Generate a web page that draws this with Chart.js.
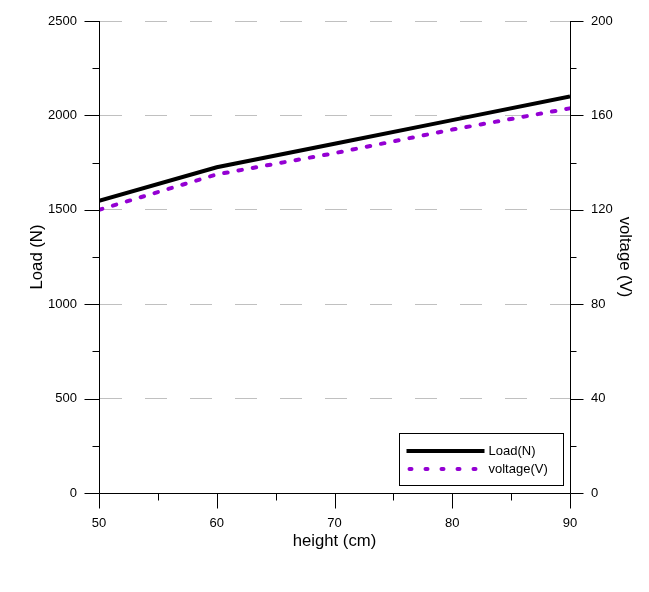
<!DOCTYPE html>
<html><head><meta charset="utf-8">
<script src="https://cdn.jsdelivr.net/npm/chart.js@4/dist/chart.umd.min.js"></script>
<style>html,body{margin:0;padding:0;background:#fff;}#wrap{width:649px;height:592px;position:relative}</style>
</head><body><div id="wrap"><canvas id="c" width="649" height="592"></canvas></div>
<script>
const heights = [50, 60, 70, 80, 90];
const loadN = [1548, 1725, 1850, 1975, 2100];
const voltageV = [120, 135, 144, 154, 163];
const seriesLabels = ['Load(N)', 'voltage(V)'];
const xTitle = 'height (cm)';
const yTitle = 'Load (N)';
const y1Title = 'voltage (V)';

const FONT = "'Liberation Sans', Arial, sans-serif";
const TICK_FONT = {family: FONT, size: 13};
const TITLE_FONT = {family: FONT, size: 16.7};

const axesPlugin = {
  id: 'axes',
  afterDraw(chart) {
    const {ctx, chartArea: a, scales} = chart;
    const {x, y, y1} = scales;
    ctx.save();
    ctx.strokeStyle = '#000';
    ctx.lineWidth = 1;
    const L = Math.round(a.left) + 0.5, R = Math.round(a.right) + 0.5, B = Math.round(a.bottom) + 0.5, T = Math.round(a.top);
    ctx.beginPath();
    ctx.moveTo(L, T); ctx.lineTo(L, B);
    ctx.moveTo(R, T); ctx.lineTo(R, B);
    ctx.moveTo(L, B); ctx.lineTo(R, B);
    for (let v = y.min; v <= y.max + 1e-6; v += 250) {
      const p = Math.round(y.getPixelForValue(v)) + 0.5;
      const major = Math.abs(v % 500) < 1e-6;
      ctx.moveTo(L - (major ? 15 : 7), p); ctx.lineTo(L, p);
    }
    for (let v = y1.min; v <= y1.max + 1e-6; v += 20) {
      const p = Math.round(y1.getPixelForValue(v)) + 0.5;
      const major = Math.abs(v % 40) < 1e-6;
      ctx.moveTo(R, p); ctx.lineTo(R + (major ? 13 : 6), p);
    }
    for (let v = x.min; v <= x.max + 1e-6; v += 5) {
      const p = Math.round(x.getPixelForValue(v)) + 0.5;
      const major = Math.abs(v % 10) < 1e-6;
      ctx.moveTo(p, B); ctx.lineTo(p, B + (major ? 15 : 7));
    }
    ctx.stroke();

    // legend
    const bw = 164, bh = 52;
    const bx = Math.round(a.right) - 7 - bw + 0.5, by = Math.round(a.bottom) - 8 - bh + 0.5;
    ctx.fillStyle = '#fff';
    ctx.fillRect(bx, by, bw, bh);
    ctx.strokeRect(bx, by, bw, bh);
    chart.data.datasets.forEach((ds, i) => {
      const ly = Math.round(by + 17 + i * 18);
      ctx.save();
      ctx.strokeStyle = ds.borderColor;
      ctx.lineWidth = ds.borderWidth;
      ctx.lineCap = ds.borderCapStyle || 'butt';
      ctx.beginPath();
      if (ds.borderDash) {
        ctx.setLineDash([2, 14]);
        ctx.moveTo(bx + 10, ly); ctx.lineTo(bx + 78, ly);
      } else {
        ctx.moveTo(bx + 7, ly); ctx.lineTo(bx + 85, ly);
      }
      ctx.stroke();
      ctx.restore();
      ctx.fillStyle = '#000';
      ctx.font = `13px ${FONT}`;
      ctx.textBaseline = 'middle';
      ctx.fillText(ds.label, bx + 89, ly);
    });
    ctx.restore();
  }
};

const plainTick = v => String(v);
function fixV(w) { return s => { s.width = w; s.paddingTop = 0; s.paddingBottom = 0; }; }

new Chart(document.getElementById('c'), {
  type: 'line',
  data: {
    datasets: [
      {label: seriesLabels[0], data: heights.map((h, i) => ({x: h, y: loadN[i]})), yAxisID: 'y',
       borderColor: '#000', borderWidth: 4, pointRadius: 0, tension: 0, fill: false},
      {label: seriesLabels[1], data: heights.map((h, i) => ({x: h, y: voltageV[i]})), yAxisID: 'y1',
       borderColor: '#9400D3', borderWidth: 4, borderDash: [3.5, 11], borderCapStyle: 'round', pointRadius: 0, tension: 0, fill: false}
    ]
  },
  options: {
    responsive: false, animation: false, devicePixelRatio: 1,
    layout: {padding: {top: 21, left: 0, right: 0, bottom: 0}},
    plugins: {legend: {display: false}, tooltip: {enabled: false}},
    scales: {
      x: {
        type: 'linear', position: 'bottom', min: 50, max: 90,
        ticks: {stepSize: 10, font: TICK_FONT, color: '#000', padding: 23, maxRotation: 0, callback: plainTick},
        grid: {display: false, drawTicks: false},
        border: {display: false},
        title: {display: true, text: xTitle, font: TITLE_FONT, color: '#000', padding: {top: 0, bottom: 41}},
        afterFit(s) { s.height = 99; s.paddingLeft = 0; s.paddingRight = 0; }
      },
      y: {
        type: 'linear', position: 'left', min: 0, max: 2500,
        ticks: {stepSize: 500, font: TICK_FONT, color: '#000', padding: 22, callback: plainTick},
        grid: {color: '#c0c0c0', lineWidth: 1, drawTicks: false},
        border: {display: false, dash: [22, 23], dashOffset: -1},
        title: {display: true, text: yTitle, font: TITLE_FONT, color: '#000', padding: {top: 27, bottom: 0}},
        afterFit: fixV(99)
      },
      y1: {
        type: 'linear', position: 'right', min: 0, max: 200,
        ticks: {stepSize: 40, font: TICK_FONT, color: '#000', padding: 21, callback: plainTick},
        grid: {drawOnChartArea: false, drawTicks: false},
        border: {display: false},
        title: {display: true, text: y1Title, font: TITLE_FONT, color: '#000', padding: {top: 14, bottom: 0}},
        afterFit: fixV(79)
      }
    }
  },
  plugins: [axesPlugin]
});
</script></body></html>
